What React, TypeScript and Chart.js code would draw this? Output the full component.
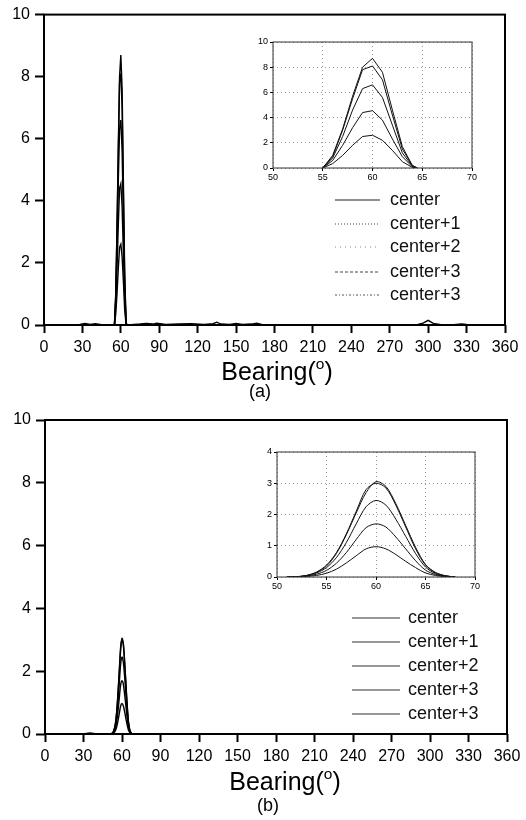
import React, { useEffect, useRef } from "react";
import { Chart, registerables } from "chart.js";
Chart.register(...registerables);

const seriesLabels = ["center", "center+1", "center+2", "center+3", "center+3"];

// ---------- Panel (a) ----------
const peakDegA = [55, 56, 57, 58, 59, 60, 61, 62, 63, 64, 64.5];
const a0 = [0, 1.0, 3.1, 5.7, 8.0, 8.7, 7.6, 4.6, 1.7, 0.2, 0];
const a1 = [0, 0.9, 3.0, 5.5, 7.8, 8.1, 7.0, 4.2, 1.5, 0.2, 0];
const a2 = [0, 0.8, 2.5, 4.6, 6.3, 6.6, 5.6, 3.4, 1.2, 0.15, 0];
const a3 = [0, 0.6, 1.8, 3.2, 4.4, 4.55, 3.8, 2.3, 0.9, 0.1, 0];
const a4 = [0, 0.35, 1.0, 1.8, 2.5, 2.6, 2.2, 1.4, 0.5, 0.05, 0];

const baseDegA = [0, 10, 20, 28, 32, 36, 40, 45, 50, 54,
  66, 70, 75, 80, 85, 88, 95, 105, 115, 125,
  132, 135, 138, 145, 150, 155, 162, 166, 170, 180,
  200, 220, 240, 260, 280, 292, 296, 300, 304, 310,
  320, 326, 330, 340, 350, 360];
const baseValA = [0, 0, 0.01, 0.02, 0.05, 0.02, 0.04, 0.01, 0, 0,
  0, 0.02, 0.03, 0.05, 0.03, 0.06, 0.02, 0.03, 0.04, 0.02,
  0.04, 0.09, 0.03, 0.02, 0.05, 0.02, 0.03, 0.06, 0.02, 0.01,
  0.01, 0.01, 0.01, 0.01, 0.01, 0.02, 0.06, 0.15, 0.05, 0.01,
  0.01, 0.03, 0.02, 0.01, 0, 0];

// ---------- Panel (b) ----------
const peakDegB = [51, 52, 53, 54, 55, 56, 57, 58, 59, 60, 61, 62, 63, 64, 65, 66, 67, 68];
const b0 = [0, 0.01, 0.05, 0.15, 0.35, 0.75, 1.35, 2.05, 2.7, 3.05, 2.9, 2.35, 1.65, 0.95, 0.4, 0.15, 0.04, 0];
const b1 = [0, 0.01, 0.05, 0.16, 0.38, 0.78, 1.38, 2.1, 2.8, 3.0, 2.85, 2.3, 1.6, 0.9, 0.38, 0.13, 0.04, 0];
const b2 = [0, 0.01, 0.04, 0.13, 0.3, 0.62, 1.1, 1.7, 2.25, 2.45, 2.3, 1.85, 1.3, 0.75, 0.32, 0.11, 0.03, 0];
const b3 = [0, 0.01, 0.03, 0.09, 0.21, 0.44, 0.78, 1.2, 1.58, 1.7, 1.6, 1.28, 0.9, 0.52, 0.22, 0.08, 0.02, 0];
const b4 = [0, 0.005, 0.02, 0.05, 0.12, 0.25, 0.45, 0.68, 0.9, 0.97, 0.9, 0.72, 0.5, 0.3, 0.13, 0.05, 0.01, 0];

const baseDegB = [0, 20, 30, 35, 40, 45, 50, 70, 90, 120, 150, 180, 210, 240, 270, 300, 330, 360];
const baseValB = [0, 0, 0.01, 0.03, 0.01, 0.01, 0, 0, 0.01, 0, 0.01, 0, 0, 0.01, 0, 0.01, 0, 0];

// ---------- Ticks ----------
const mainXTicks = [0, 30, 60, 90, 120, 150, 180, 210, 240, 270, 300, 330, 360];
const mainYTicks = [0, 2, 4, 6, 8, 10];
const insetXTicks = [50, 55, 60, 65, 70];
const insetYTicksA = [0, 2, 4, 6, 8, 10];
const insetYTicksB = [0, 1, 2, 3, 4];

const FONT = "'Liberation Sans', Arial, sans-serif";

type P = { x: number; y: number };
const zip = (xs: number[], ys: number[]): P[] => xs.map((x, i) => ({ x, y: ys[i] }));
const merge = (bx: number[], by: number[], px: number[], py: number[]): P[] =>
  [...zip(bx, by), ...zip(px, py)].sort((p, q) => p.x - q.x);

const framePlugin = {
  id: "frame",
  afterDraw(chart: any, _args: any, opts: any) {
    const { ctx, chartArea: a } = chart;
    ctx.save();
    ctx.lineWidth = opts.width || 1;
    ctx.strokeStyle = opts.color || "#000";
    ctx.strokeRect(a.left, a.top, a.right - a.left, a.bottom - a.top);
    ctx.restore();
  },
};

const legendPlugin = {
  id: "customLegend",
  afterDraw(chart: any, _args: any, opts: any) {
    if (!opts || !opts.rows) return;
    const { ctx } = chart;
    ctx.save();
    chart.data.datasets.forEach((ds: any, i: number) => {
      const y = opts.rows[i];
      ctx.beginPath();
      ctx.lineWidth = 1.2;
      ctx.strokeStyle = opts.colors[i];
      ctx.setLineDash(opts.dashes[i]);
      ctx.moveTo(opts.x1, y);
      ctx.lineTo(opts.x2, y);
      ctx.stroke();
      ctx.setLineDash([]);
      ctx.fillStyle = "#111";
      ctx.font = `18px ${FONT}`;
      ctx.textBaseline = "middle";
      ctx.textAlign = "left";
      ctx.fillText(ds.label, opts.textX, y);
    });
    ctx.restore();
  },
};

function ChartCanvas(props: { left: number; top: number; width: number; height: number; make: () => any }) {
  const ref = useRef<HTMLCanvasElement>(null);
  useEffect(() => {
    const c = new Chart(ref.current as HTMLCanvasElement, props.make());
    return () => c.destroy();
  }, []);
  return (
    <canvas
      ref={ref}
      width={props.width}
      height={props.height}
      style={{ position: "absolute", left: props.left, top: props.top, width: props.width, height: props.height }}
    />
  );
}

function mainConfig(datasets: any[], padTop: number, padRight: number, yW: number, xH: number, legend: any) {
  return {
    type: "line",
    data: { datasets },
    plugins: [framePlugin, legendPlugin],
    options: {
      animation: false,
      responsive: false,
      layout: { padding: { top: padTop, right: padRight, left: 0, bottom: 0 } },
      plugins: { legend: { display: false }, tooltip: { enabled: false }, frame: { width: 2, color: "#000" }, customLegend: legend },
      elements: { point: { radius: 0 } },
      scales: {
        x: {
          type: "linear",
          min: 0,
          max: 360,
          afterFit: (s: any) => { s.height = xH; },
          afterBuildTicks: (s: any) => { s.ticks = mainXTicks.map((v) => ({ value: v })); },
          ticks: { color: "#000", font: { size: 16, family: FONT }, padding: 5, maxRotation: 0, autoSkip: false },
          grid: { drawOnChartArea: false, drawTicks: true, tickLength: 8, tickColor: "#000", tickWidth: 2 },
          border: { display: false },
        },
        y: {
          min: 0,
          max: 10,
          afterFit: (s: any) => { s.width = yW; },
          afterBuildTicks: (s: any) => { s.ticks = mainYTicks.map((v) => ({ value: v })); },
          ticks: { color: "#000", font: { size: 16, family: FONT }, padding: 5 },
          grid: { drawOnChartArea: false, drawTicks: true, tickLength: 9, tickColor: "#000", tickWidth: 2 },
          border: { display: false },
        },
      },
    },
  };
}

function insetConfig(datasets: any[], yMax: number, yTicks: number[], padTop: number, padRight: number, yW: number, xH: number) {
  return {
    type: "line",
    data: { datasets },
    plugins: [framePlugin],
    options: {
      animation: false,
      responsive: false,
      layout: { padding: { top: padTop, right: padRight, left: 0, bottom: 0 } },
      plugins: { legend: { display: false }, tooltip: { enabled: false }, frame: { width: 1, color: "#333" } },
      elements: { point: { radius: 0 } },
      scales: {
        x: {
          type: "linear",
          min: 50,
          max: 70,
          afterFit: (s: any) => { s.height = xH; },
          afterBuildTicks: (s: any) => { s.ticks = insetXTicks.map((v) => ({ value: v })); },
          ticks: { color: "#000", font: { size: 9, family: FONT }, padding: 1, maxRotation: 0 },
          grid: { color: "#999", lineWidth: 1, drawTicks: true, tickLength: 3, tickColor: "#000", tickBorderDash: [] },
          border: { display: false, dash: [1, 3] },
        },
        y: {
          min: 0,
          max: yMax,
          afterFit: (s: any) => { s.width = yW; },
          afterBuildTicks: (s: any) => { s.ticks = yTicks.map((v) => ({ value: v })); },
          ticks: { color: "#000", font: { size: 9, family: FONT }, padding: 2 },
          grid: { color: "#999", lineWidth: 1, drawTicks: true, tickLength: 3, tickColor: "#000", tickBorderDash: [] },
          border: { display: false, dash: [1, 3] },
        },
      },
    },
  };
}

const peaksA = [a0, a1, a2, a3, a4];
const peaksB = [b0, b1, b2, b3, b4];

function mainDatasetsA() {
  return peaksA.map((p, i) => ({
    label: seriesLabels[i],
    data: i === 0 ? merge(baseDegA, baseValA, peakDegA, p) : merge([0, 360], [0, 0], peakDegA, p),
    borderColor: "#000",
    borderWidth: 1.4,
    fill: false,
  }));
}
function mainDatasetsB() {
  return peaksB.map((p, i) => ({
    label: seriesLabels[i],
    data: i === 0 ? merge(baseDegB, baseValB, peakDegB, p) : merge([0, 360], [0, 0], peakDegB, p),
    borderColor: "#000",
    borderWidth: 1.4,
    fill: false,
    tension: 0.3,
  }));
}
function insetDatasets(peaks: number[][], xs: number[], tension: number) {
  return peaks.map((p, i) => ({
    label: seriesLabels[i],
    data: zip(xs, p),
    borderColor: "#111",
    borderWidth: 1,
    fill: false,
    tension,
  }));
}

function Title(props: { top: number; center: number; text: string; size: number; sup?: boolean }) {
  return (
    <div
      style={{
        position: "absolute",
        top: props.top,
        left: props.center - 150,
        width: 300,
        textAlign: "center",
        fontFamily: FONT,
        fontSize: props.size,
        lineHeight: 1,
        color: "#000",
        whiteSpace: "nowrap",
      }}
    >
      {props.text}
      {props.sup ? (
        <>
          (<span style={{ fontSize: props.size * 0.62, position: "relative", top: -props.size * 0.45 }}>o</span>)
        </>
      ) : null}
    </div>
  );
}

export default function App() {
  return (
    <div style={{ position: "absolute", left: 0, top: 0, width: 526, height: 820, background: "#fff", overflow: "hidden" }}>
      <ChartCanvas
        left={0}
        top={0}
        width={526}
        height={360}
        make={() =>
          mainConfig(mainDatasetsA(), 12, 21, 44, 35, {
            x1: 335,
            x2: 380,
            textX: 390,
            rows: [200, 224, 247, 272, 295],
            colors: ["#222", "#444", "#888", "#444", "#555"],
            dashes: [[], [1, 2], [1, 4], [3, 2], [2, 2, 1, 2]],
          })
        }
      />
      <ChartCanvas left={248} top={34} width={232} height={150} make={() => insetConfig(insetDatasets(peaksA, peakDegA, 0), 10, insetYTicksA, 8, 8, 25, 16)} />
      <Title top={359} center={277} text="Bearing" size={25} sup />
      <Title top={382} center={260} text="(a)" size={18} />

      <ChartCanvas
        left={0}
        top={400}
        width={526}
        height={370}
        make={() =>
          mainConfig(mainDatasetsB(), 20, 19, 45, 36, {
            x1: 352,
            x2: 400,
            textX: 408,
            rows: [218, 242, 266, 290, 314],
            colors: ["#333", "#333", "#333", "#333", "#333"],
            dashes: [[], [], [], [], []],
          })
        }
      />
      <ChartCanvas left={250} top={444} width={232} height={150} make={() => insetConfig(insetDatasets(peaksB, peakDegB, 0.3), 4, insetYTicksB, 8, 7, 27, 17)} />
      <Title top={769} center={285} text="Bearing" size={25} sup />
      <Title top={796} center={268} text="(b)" size={18} />
    </div>
  );
}
